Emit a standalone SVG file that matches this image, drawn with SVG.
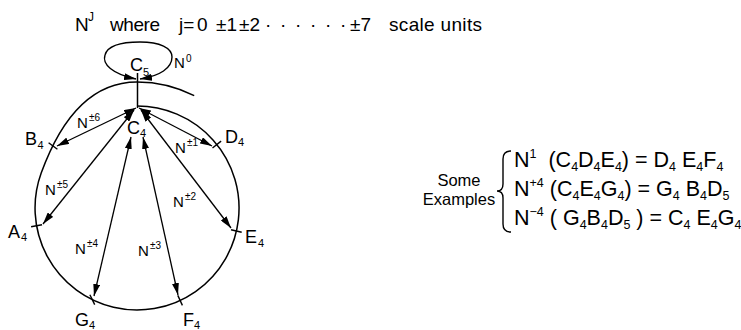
<svg xmlns="http://www.w3.org/2000/svg" width="741" height="330" viewBox="0 0 741 330">
<style>
text{font-family:"Liberation Sans",Arial,sans-serif;fill:#000}
.t{font-size:19px}
.ts{font-size:12px}
.n{font-size:18px}
.sb{font-size:11px}
.l{font-size:15px}
.sp{font-size:10px}
.lab{font-size:16.5px}
.ex{font-size:21.5px}
.exs{font-size:12.5px}
.line{fill:none;stroke:#000;stroke-width:1.5}
.tick{fill:none;stroke:#000;stroke-width:1.4}
.arr{fill:none;stroke:#000;stroke-width:1.3;marker-start:url(#ah);marker-end:url(#ah)}
</style>
<defs>
<marker id="ah" markerUnits="userSpaceOnUse" markerWidth="12" markerHeight="7" refX="12" refY="3.5" orient="auto-start-reverse"><path d="M0,0 L12,3.5 L0,7 Z" fill="#000"/></marker>
</defs>
<g id="title">
<text class="t" x="75" y="31">N</text>
<text class="ts" x="88" y="21">J</text>
<text class="t" x="110" y="31" textLength="50">where</text>
<text class="t" x="179" y="31">j=</text>
<text class="t" x="197" y="31">0</text>
<text class="t" x="216" y="31">±1</text>
<text class="t" x="239" y="31">±2</text>
<text class="t" x="265 280 295 310 325 340" y="31">······</text>
<text class="t" x="350" y="31">±7</text>
<text class="t" x="389" y="31" textLength="93">scale units</text>
</g>
<g id="connectors">
<path class="line" d="M137,106 A102,102 0 1 1 41.2,173.1 C54.9,135.5 82,82 137,82 A126,126 0 0 1 194.2,95.7"/>
<line class="line" x1="137.5" y1="73" x2="137.5" y2="108"/>
<path class="line" style="stroke-width:1.4;marker-start:url(#ah);marker-end:url(#ah)" d="M136,79 C112,74 102,64 105,55 C108,44 125,42 140,42 C160,42 172,48 172,57 C172,68 160,76 140,79"/>
<line class="arr" x1="136" y1="108" x2="57" y2="146"/>
<line class="arr" x1="134" y1="110" x2="43" y2="224"/>
<line class="arr" x1="131" y1="137" x2="94" y2="296"/>
<line class="arr" x1="143" y1="137" x2="178" y2="295"/>
<line class="arr" x1="141" y1="110" x2="231" y2="228"/>
<line class="arr" x1="139" y1="108" x2="212" y2="146"/>
<text class="l" x="174" y="68">N</text><text class="sp" x="186" y="62">0</text>
<text class="l" x="77" y="128">N</text><text class="sp" x="89" y="121">±6</text>
<text class="l" x="45" y="195">N</text><text class="sp" x="57" y="188">±5</text>
<text class="l" x="75" y="254">N</text><text class="sp" x="87" y="247">±4</text>
<text class="l" x="138" y="256">N</text><text class="sp" x="150" y="249">±3</text>
<text class="l" x="173" y="207">N</text><text class="sp" x="185" y="200">±2</text>
<text class="l" x="175" y="153">N</text><text class="sp" x="187" y="146">±1</text>
</g>
<g id="C5"><text class="n" x="130" y="71">C</text><text class="sb" x="143" y="76">5</text></g>
<g id="C4"><text class="n" x="127" y="134">C</text><text class="sb" x="140" y="137">4</text></g>
<g id="D4"><line class="tick" x1="212.5" y1="148" x2="221.1" y2="141.1"/><text class="n" x="225" y="143">D</text><text class="sb" x="238" y="146">4</text></g>
<g id="E4"><line class="tick" x1="231" y1="229.8" x2="241.7" y2="232.3"/><text class="n" x="245" y="243">E</text><text class="sb" x="258" y="247">4</text></g>
<g id="F4"><line class="tick" x1="177.8" y1="295.4" x2="182.4" y2="305.4"/><text class="n" x="183" y="326">F</text><text class="sb" x="194" y="329">4</text></g>
<g id="G4"><line class="tick" x1="89.9" y1="294.8" x2="94.7" y2="304.6"/><text class="n" x="75" y="326">G</text><text class="sb" x="89" y="329">4</text></g>
<g id="A4"><line class="tick" x1="31.1" y1="226.7" x2="42" y2="224.7"/><text class="n" x="8" y="238">A</text><text class="sb" x="21" y="241">4</text></g>
<g id="B4"><line class="tick" x1="48.6" y1="142.7" x2="57.4" y2="149.3"/><text class="n" x="25" y="145">B</text><text class="sb" x="37.5" y="149">4</text></g>
<g id="examples">
<text class="lab" x="459" y="186" text-anchor="middle">Some</text>
<text class="lab" x="459" y="205" text-anchor="middle">Examples</text>
<path class="tick" d="M511,151 Q503,151 503,159 L503,184 Q503,191 497,191 Q503,191 503,198 L503,224 Q503,232 511,232"/>
<text class="ex" x="514" y="167" xml:space="preserve">N<tspan class="exs" dy="-9">1</tspan><tspan dy="9">  (C</tspan><tspan class="exs" dy="4">4</tspan><tspan dy="-4">D</tspan><tspan class="exs" dy="4">4</tspan><tspan dy="-4">E</tspan><tspan class="exs" dy="4">4</tspan><tspan dy="-4">) = D</tspan><tspan class="exs" dy="4">4</tspan><tspan dy="-4"> E</tspan><tspan class="exs" dy="4">4</tspan><tspan dy="-4">F</tspan><tspan class="exs" dy="4">4</tspan></text>
<text class="ex" x="514" y="196" xml:space="preserve">N<tspan class="exs" dy="-9">+4</tspan><tspan dy="9"> (C</tspan><tspan class="exs" dy="4">4</tspan><tspan dy="-4">E</tspan><tspan class="exs" dy="4">4</tspan><tspan dy="-4">G</tspan><tspan class="exs" dy="4">4</tspan><tspan dy="-4">) = G</tspan><tspan class="exs" dy="4">4</tspan><tspan dy="-4"> B</tspan><tspan class="exs" dy="4">4</tspan><tspan dy="-4">D</tspan><tspan class="exs" dy="4">5</tspan></text>
<text class="ex" x="514" y="225" xml:space="preserve">N<tspan class="exs" dy="-9">−4</tspan><tspan dy="9"> ( G</tspan><tspan class="exs" dy="4">4</tspan><tspan dy="-4">B</tspan><tspan class="exs" dy="4">4</tspan><tspan dy="-4">D</tspan><tspan class="exs" dy="4">5</tspan><tspan dy="-4"> ) = C</tspan><tspan class="exs" dy="4">4</tspan><tspan dy="-4"> E</tspan><tspan class="exs" dy="4">4</tspan><tspan dy="-4">G</tspan><tspan class="exs" dy="4">4</tspan></text>
</g>
</svg>
